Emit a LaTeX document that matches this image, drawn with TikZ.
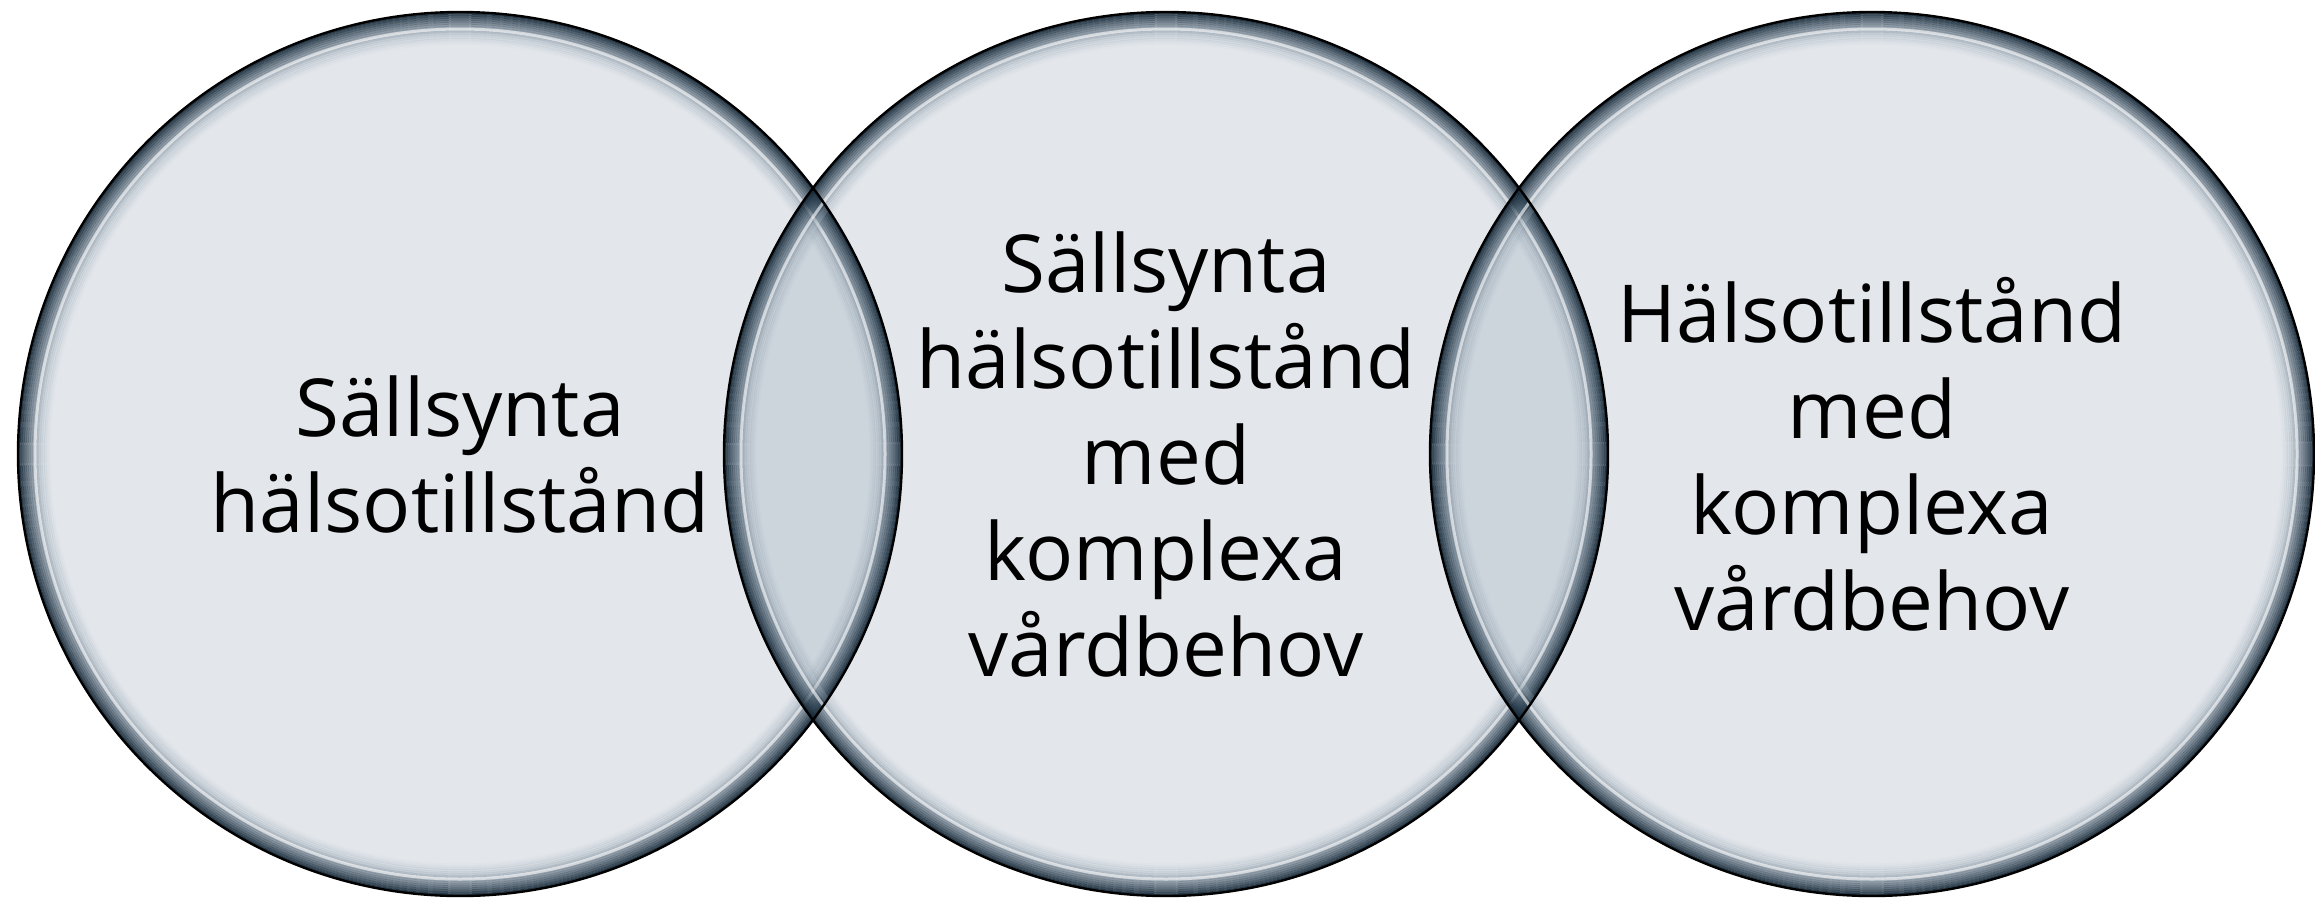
\documentclass[tikz,border=0pt]{standalone}
\usepackage{fontspec}
\setmainfont{Open Sans}
\definecolor{vfill}{RGB}{105,127,150}
\definecolor{vdark}{RGB}{22,40,55}
\definecolor{vmid}{RGB}{110,138,160}
\tikzset{
  vtext/.style={align=center, font=\fontsize{80}{96}\selectfont, text=black, inner sep=0pt},
}
\newcommand{\vR}{442}
\begin{document}
\begin{tikzpicture}[x=1pt,y=-1pt]
\useasboundingbox[fill=white] (0,0) rectangle (2315,897);
\coordinate (c1) at (460,454);
\coordinate (c2) at (1166,454);
\coordinate (c3) at (1872,454);
% fills
\foreach \c in {c1,c2,c3}{
  \fill[vfill, fill opacity=0.18] (\c) circle[radius=\vR];
}
% bevel rings
\foreach \c in {c1,c2,c3}{
  \foreach \i in {0,...,15}{
    \pgfmathsetmacro{\rr}{\vR-1.5-2*\i}
    \pgfmathsetmacro{\op}{0.9*(1-\i/16)^1.3}
    \pgfmathtruncatemacro{\mx}{100-6*\i}
    \draw[vdark!\mx!vmid, line width=2.2pt, draw opacity=\op] (\c) circle[radius=\rr];
  }
  \draw[white, line width=3pt, draw opacity=0.6] (\c) circle[radius=\vR-17];
  \draw[white, line width=6pt, draw opacity=0.12] (\c) circle[radius=\vR-23];
}
% outlines
\foreach \c in {c1,c2,c3}{
  \draw[black, line width=2.4pt] (\c) circle[radius=\vR];
}
\node[vtext] (t1) at (c1) {Sällsynta\\hälsotillstånd};
\node[vtext] (t2) at (c2) {Sällsynta\\hälsotillstånd\\med\\komplexa\\vårdbehov};
\node[vtext] (t3) at (c3) {Hälsotillstånd\\med\\komplexa\\vårdbehov};
\end{tikzpicture}
\end{document}
